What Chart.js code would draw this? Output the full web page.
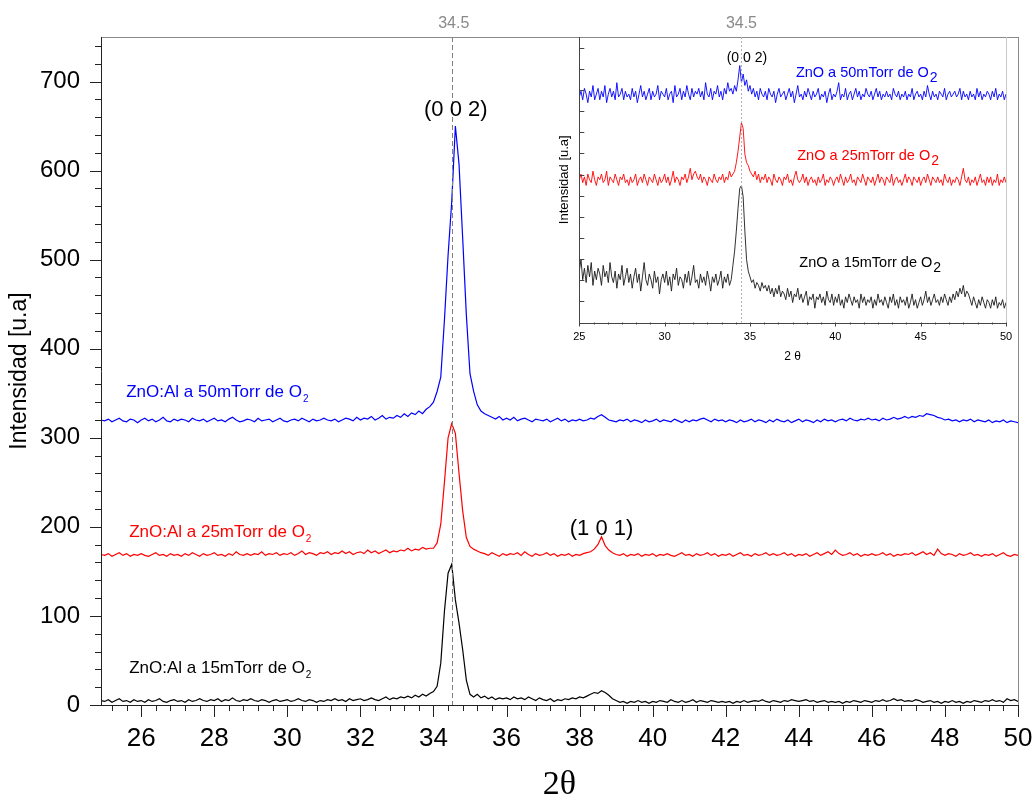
<!DOCTYPE html>
<html lang="es">
<head>
<meta charset="utf-8">
<title>DRX ZnO:Al</title>
<script src="https://cdn.jsdelivr.net/npm/chart.js@4.4.1/dist/chart.umd.min.js"></script>
<style>
  html, body { margin: 0; padding: 0; background: #fff; overflow: hidden; }
  #wrap { position: relative; width: 1035px; height: 802px; }
  canvas { position: absolute; top: 0; }
  #main-chart { left: 0; }
  #inset-chart { left: 540px; }
</style>
</head>
<body>
<div id="wrap">
  <canvas id="main-chart" width="1035" height="802"></canvas>
  <canvas id="inset-chart" width="477" height="372"></canvas>
</div>
<script>
// scan grid in 2θ (degrees)
const mainScanStart = 24.9;
const insetScanStart = 25.0;
const scanStep = 0.1;

const mainXTicks = [26, 28, 30, 32, 34, 36, 38, 40, 42, 44, 46, 48, 50];
const mainYTicks = [0, 100, 200, 300, 400, 500, 600, 700];
const insetXTicks = [25, 30, 35, 40, 45, 50];

// main plot, ZnO:Al films (24.9 .. 50.0)
const znoAl50 = [320,
  319,321,318,320,322,319,318,321,320,317,
  320,322,319,321,318,320,323,319,318,321,
  319,321,320,318,322,320,319,321,318,320,
  322,319,320,318,321,323,320,318,319,321,
  320,318,322,319,320,321,318,320,322,319,
  318,320,321,319,322,320,318,321,319,320,
  322,320,319,321,318,320,322,321,319,323,
  320,322,321,324,320,322,325,321,323,322,
  325,323,327,324,328,326,330,327,332,335,
  340,352,368,432,505,565,650,607,524,438,
  372,352,337,330,327,325,323,321,324,320,
  322,320,323,319,321,322,320,318,321,320,
  319,321,318,320,322,319,321,318,320,319,
  321,319,320,322,321,324,326,323,320,319,
  318,320,319,321,318,320,319,317,320,318,
  319,321,318,320,319,318,321,319,317,320,
  318,320,319,321,322,320,318,321,319,320,
  318,320,319,317,320,318,319,321,318,320,
  319,317,320,318,321,319,318,320,317,319,
  321,318,320,319,317,320,318,321,319,320,
  318,320,321,319,322,320,319,321,320,322,
  320,321,319,322,320,321,323,321,322,324,
  322,324,323,325,324,327,326,325,323,322,
  320,321,319,320,318,320,319,321,318,320,
  319,318,320,317,319,318,320,317,319,318,
  317];

const znoAl25 = [169,
  168,170,167,169,171,168,170,167,169,168,
  170,168,167,169,171,168,169,167,170,168,
  169,167,170,168,171,169,167,170,168,169,
  171,168,169,167,170,168,172,169,168,170,
  168,170,169,172,168,170,169,171,168,170,
  169,171,168,170,173,169,171,170,168,171,
  170,172,169,171,170,173,170,172,169,171,
  172,170,174,171,173,170,172,174,171,173,
  172,174,173,176,173,175,174,177,175,176,
  176,182,203,250,300,316,305,260,218,188,
  178,175,173,171,170,168,171,169,167,170,
  168,170,169,171,168,172,169,167,170,168,
  169,171,168,170,167,169,168,170,167,169,
  168,170,171,172,175,180,189,179,174,171,
  169,168,170,167,169,168,170,167,169,168,
  170,167,169,168,170,168,167,169,171,168,
  169,167,170,168,169,171,168,170,167,169,
  168,170,167,169,171,168,169,167,170,168,
  169,171,168,170,168,169,171,168,170,167,
  169,168,170,167,169,171,168,170,172,169,
  174,170,168,169,171,168,170,167,169,168,
  170,168,169,171,168,170,167,169,168,170,
  169,171,168,170,172,169,171,168,175,170,
  168,170,169,167,170,168,169,171,168,169,
  167,169,168,170,167,169,171,168,167,169,
  168];

const znoAl15 = [5,
  4,6,3,5,7,4,5,3,6,4,
  5,3,6,4,5,7,4,3,5,6,
  4,5,3,6,4,5,7,5,4,6,
  5,7,4,6,5,8,5,4,6,5,
  7,5,4,6,5,3,5,6,4,5,
  6,4,5,7,5,4,6,5,3,5,
  4,6,5,7,5,6,4,7,5,6,
  7,5,6,8,6,5,7,9,6,8,
  7,9,8,10,8,11,9,12,10,13,
  15,21,47,105,148,158,118,92,62,28,
  12,9,12,8,10,7,9,6,8,7,
  8,6,9,7,8,6,9,7,5,8,
  6,5,7,4,6,5,7,6,8,7,
  9,8,10,12,14,13,16,14,11,7,
  5,3,4,2,4,3,5,3,4,2,
  4,3,5,4,3,6,4,3,5,3,
  4,6,3,5,4,3,5,4,3,4,
  3,4,2,4,3,5,3,4,5,4,
  6,4,3,5,4,3,5,4,6,5,
  4,5,6,4,5,3,4,5,3,4,
  3,4,2,4,3,5,4,3,5,4,
  3,5,4,6,4,5,7,5,6,4,
  5,4,6,5,3,4,5,3,4,2,
  4,3,5,3,4,2,4,3,5,4,
  3,5,4,6,4,5,3,7,5,6,
  4];

// inset, undoped ZnO films (25.0 .. 50.0), arbitrary units
const zno50 = [
  79,81,78,82,80,77,81,79,83,78,
  80,82,78,81,79,83,77,80,82,79,
  81,78,84,79,80,82,78,81,79,80,
  78,82,79,81,77,80,83,79,81,78,
  80,82,78,81,79,80,83,78,81,80,
  79,82,78,80,81,77,83,79,80,82,
  78,81,79,83,80,78,82,79,81,80,
  82,79,81,78,84,80,79,82,78,81,
  80,83,79,81,78,82,80,84,81,82,
  80,83,81,85,90,84,87,83,85,81,
  83,80,82,79,81,78,82,80,79,81,
  78,82,80,79,81,77,80,82,79,80,
  81,78,80,82,79,81,77,80,83,79,
  80,78,81,79,82,80,78,81,79,80,
  82,78,80,79,81,77,80,82,78,80,
  79,81,84,78,80,79,82,78,80,81,
  78,80,82,79,81,78,80,79,82,80,
  79,81,78,80,82,79,81,78,80,79,
  81,79,80,78,82,80,79,81,78,80,
  79,81,78,80,79,82,78,80,81,79,
  80,78,81,79,83,80,78,81,79,80,
  78,81,80,79,82,78,80,81,79,80,
  81,79,80,82,78,81,79,80,78,81,
  79,80,78,82,79,81,78,80,79,81,
  80,78,81,79,82,78,80,79,81,78,
  80];

const zno25 = [
  50,52,49,51,48,52,50,49,53,50,
  48,51,50,52,49,50,53,48,51,50,
  49,52,50,48,51,50,52,49,50,48,
  51,49,50,52,48,50,51,49,52,50,
  48,51,50,49,52,50,48,51,49,50,
  52,49,51,48,50,53,49,51,50,48,
  51,50,52,49,51,54,50,52,53,51,
  50,52,49,51,50,48,51,50,49,52,
  50,49,51,50,52,49,51,50,53,51,
  52,53,56,60,65,70,68,59,56,55,
  53,52,51,53,50,52,49,51,50,52,
  49,51,50,48,52,50,49,51,50,48,
  51,50,52,49,50,48,51,53,50,49,
  50,52,49,51,48,50,51,49,50,48,
  51,49,50,52,48,50,49,51,50,48,
  50,51,49,52,50,48,51,49,50,52,
  49,50,48,51,50,49,52,50,48,51,
  50,49,51,48,50,52,49,51,50,48,
  51,50,49,52,48,50,51,49,50,48,
  50,52,49,51,50,48,51,50,49,51,
  48,50,51,49,52,50,48,51,50,49,
  51,49,50,48,52,50,49,51,48,50,
  49,51,50,48,51,54,50,49,51,48,
  50,49,51,48,50,52,49,50,48,51,
  49,51,48,50,49,52,48,50,49,51,
  49];

const zno15 = [
  18,22,15,19,14,20,16,21,13,18,
  15,19,17,13,20,16,18,14,21,16,
  14,18,12,17,15,20,13,16,19,14,
  17,12,16,19,14,17,11,16,21,15,
  13,17,15,12,18,14,16,10,15,17,
  14,18,13,16,11,17,15,19,13,16,
  15,12,17,14,18,13,16,20,14,15,
  12,17,14,16,13,18,15,11,16,14,
  17,13,15,18,12,16,14,17,13,15,
  20,25,32,40,47,48,44,32,22,18,
  16,14,15,12,14,13,11,14,12,13,
  11,13,10,12,9,12,10,13,9,11,
  10,8,12,9,11,7,10,9,12,8,
  10,7,9,11,6,9,8,10,5,9,
  8,10,7,9,6,11,8,7,10,6,
  9,7,10,6,8,5,9,7,10,8,
  6,9,7,8,5,10,7,9,6,8,
  7,9,5,8,6,10,7,8,6,9,
  7,5,9,7,10,6,8,5,9,7,
  8,6,9,5,7,10,6,8,5,7,
  9,6,8,11,7,9,6,8,10,7,
  8,6,9,7,10,8,6,9,7,10,
  8,11,9,12,10,13,9,11,10,8,
  6,9,7,5,8,6,9,7,5,8,
  7,5,8,6,9,5,7,6,8,5,
  7];

const BLUE = '#0000ff', RED = '#ff0000', BLACK = '#000000';
const SANS = "'Liberation Sans', Arial, sans-serif";
const NARROW = "'Liberation Sans Narrow', 'Arial Narrow', 'Liberation Sans', sans-serif";
const SERIF = "'Liberation Serif', 'Times New Roman', serif";

const toPoints = (vals, start) =>
  vals.map((v, i) => ({ x: Math.round((start + i * scanStep) * 10) / 10, y: v }));

const lineSet = (label, vals, start, color, width) => ({
  label,
  data: toPoints(vals, start),
  borderColor: color,
  backgroundColor: color,
  borderWidth: width,
  pointRadius: 0,
  tension: 0,
  fill: false,
});

// drop the label overhang padding so the plot area is exactly what layout.padding says
const noOverhang = s => {
  s.paddingLeft = 0;
  s.paddingRight = 0;
  s.paddingTop = 0;
  s.paddingBottom = 0;
};

function hline(ctx, x1, x2, y) {
  const yy = Math.round(y) + 0.5;
  ctx.beginPath();
  ctx.moveTo(x1, yy);
  ctx.lineTo(x2, yy);
  ctx.stroke();
}

function vline(ctx, x, y1, y2) {
  const xx = Math.round(x) + 0.5;
  ctx.beginPath();
  ctx.moveTo(xx, y1);
  ctx.lineTo(xx, y2);
  ctx.stroke();
}

// "text" + lowered subscript
function subLabel(ctx, text, sub, x, y, size, subSize, drop, color) {
  ctx.fillStyle = color;
  ctx.textAlign = 'left';
  ctx.textBaseline = 'alphabetic';
  ctx.font = `${size}px ${SANS}`;
  ctx.fillText(text, x, y);
  const w = ctx.measureText(text).width;
  ctx.font = `${subSize}px ${SANS}`;
  ctx.fillText(sub, x + w + 1, y + drop);
}

const mainDecor = {
  id: 'mainDecor',
  afterDraw(chart) {
    const { ctx, chartArea: a, scales: { x, y } } = chart;
    ctx.save();
    ctx.lineWidth = 1;

    ctx.strokeStyle = '#8a8a8a';
    hline(ctx, a.left, a.right + 1, a.top);
    vline(ctx, a.right, a.top, a.bottom);
    ctx.strokeStyle = '#222';
    vline(ctx, a.left, a.top, a.bottom + 1);
    hline(ctx, a.left, a.right + 1, a.bottom);

    // y ticks every 20, long ones where labelled
    for (let v = 0; v <= 740; v += 20) {
      const len = mainYTicks.includes(v) ? 11 : 6;
      hline(ctx, a.left - len, a.left, y.getPixelForValue(v));
    }
    // x ticks every 0.4
    for (let k = 0; ; k++) {
      const v = 25.2 + 0.4 * k;
      if (v > 50.001) break;
      const major = mainXTicks.some(t => Math.abs(t - v) < 1e-6);
      vline(ctx, x.getPixelForValue(v), a.bottom, a.bottom + (major ? 12 : 6));
    }

    // reference line at 34.5
    const px = x.getPixelForValue(34.5);
    ctx.strokeStyle = '#808080';
    ctx.setLineDash([5, 3]);
    vline(ctx, px, a.top, a.bottom);
    ctx.setLineDash([]);
    ctx.fillStyle = '#8a8a8a';
    ctx.font = `16px ${SANS}`;
    ctx.textAlign = 'center';
    ctx.textBaseline = 'alphabetic';
    ctx.fillText('34.5', px + 2, 28);

    // peak indices
    ctx.fillStyle = BLACK;
    ctx.font = `22px ${SANS}`;
    ctx.fillText('(0 0 2)', x.getPixelForValue(34.61), y.getPixelForValue(661));
    ctx.fillText('(1 0 1)', x.getPixelForValue(38.6), y.getPixelForValue(191));

    // series names
    subLabel(ctx, 'ZnO:Al a 50mTorr de O', '2', x.getPixelForValue(25.59), y.getPixelForValue(346), 17, 10, 5, BLUE);
    subLabel(ctx, 'ZnO:Al a 25mTorr de O', '2', x.getPixelForValue(25.67), y.getPixelForValue(189), 17, 10, 5, RED);
    subLabel(ctx, 'ZnO:Al a 15mTorr de O', '2', x.getPixelForValue(25.67), y.getPixelForValue(36), 17, 10, 5, BLACK);
    ctx.restore();
  },
};

new Chart(document.getElementById('main-chart'), {
  type: 'line',
  data: {
    datasets: [
      lineSet('ZnO:Al a 15mTorr de O2', znoAl15, mainScanStart, BLACK, 1.2),
      lineSet('ZnO:Al a 25mTorr de O2', znoAl25, mainScanStart, RED, 1.2),
      lineSet('ZnO:Al a 50mTorr de O2', znoAl50, mainScanStart, BLUE, 1.2),
    ],
  },
  options: {
    responsive: false,
    animation: false,
    devicePixelRatio: 1,
    layout: { autoPadding: false, padding: { top: 37, right: 17, left: 0, bottom: 0 } },
    plugins: { legend: { display: false }, tooltip: { enabled: false } },
    scales: {
      x: {
        type: 'linear',
        min: 24.9,
        max: 50,
        afterBuildTicks: s => { s.ticks = mainXTicks.map(v => ({ value: v })); },
        ticks: { color: '#000', font: { family: NARROW, size: 26 }, padding: 18, maxRotation: 0, autoSkip: false },
        grid: { display: false, drawTicks: false },
        border: { display: false },
        title: { display: true, text: '2θ', color: '#000', font: { family: SERIF, size: 34, lineHeight: 1 }, padding: { top: 0, bottom: 0 } },
        afterFit: s => { s.height = 97; noOverhang(s); },
      },
      y: {
        min: 0,
        max: 750,
        afterBuildTicks: s => { s.ticks = mainYTicks.map(v => ({ value: v })); },
        ticks: { color: '#000', font: { family: SANS, size: 24 }, padding: 21 },
        grid: { display: false, drawTicks: false },
        border: { display: false },
        title: { display: true, text: 'Intensidad [u.a]', color: '#000', font: { family: SANS, size: 23 }, padding: { top: 6, bottom: 0 } },
        afterFit: s => { s.width = 101; noOverhang(s); },
      },
    },
  },
  plugins: [mainDecor],
});

const insetDecor = {
  id: 'insetDecor',
  beforeDraw(chart) {
    const { ctx, width, height } = chart;
    ctx.save();
    ctx.fillStyle = '#fff';
    ctx.fillRect(0, 38, width, height - 38);
    ctx.restore();
  },
  afterDraw(chart) {
    const { ctx, chartArea: a, scales: { x, y } } = chart;
    ctx.save();
    ctx.lineWidth = 1;

    ctx.strokeStyle = '#c8c8c8';
    vline(ctx, a.right, a.top, a.bottom);
    ctx.strokeStyle = '#444';
    vline(ctx, a.left, a.top, a.bottom + 1);
    hline(ctx, a.left, a.right + 1, a.bottom);

    // inward y ticks
    for (let v = 7.4; v < 100; v += 7.4) {
      hline(ctx, a.left, a.left + 5, y.getPixelForValue(v));
    }
    // x ticks: majors every 5, five minors between
    for (let k = 0; k <= 30; k++) {
      const v = 25 + k * 5 / 6;
      const major = k % 6 === 0;
      vline(ctx, x.getPixelForValue(v), a.bottom, a.bottom + (major ? 4 : 2));
    }

    const px = x.getPixelForValue(34.5);
    ctx.strokeStyle = '#b0b0b0';
    ctx.setLineDash([2, 2]);
    vline(ctx, px, a.top, a.bottom);
    ctx.setLineDash([]);
    ctx.fillStyle = '#8a8a8a';
    ctx.font = `16px ${SANS}`;
    ctx.textAlign = 'center';
    ctx.textBaseline = 'alphabetic';
    ctx.fillText('34.5', px, 28);

    ctx.fillStyle = BLACK;
    ctx.font = `14px ${SANS}`;
    ctx.fillText('(0 0 2)', x.getPixelForValue(34.82), y.getPixelForValue(91.4));

    subLabel(ctx, 'ZnO a 50mTorr de O', '2', x.getPixelForValue(37.69), y.getPixelForValue(85.9), 14.5, 14, 5, BLUE);
    subLabel(ctx, 'ZnO a 25mTorr de O', '2', x.getPixelForValue(37.77), y.getPixelForValue(56.9), 14.5, 14, 5, RED);
    subLabel(ctx, 'ZnO a 15mTorr de O', '2', x.getPixelForValue(37.89), y.getPixelForValue(19.6), 14.5, 14, 5, BLACK);
    ctx.restore();
  },
};

new Chart(document.getElementById('inset-chart'), {
  type: 'line',
  data: {
    datasets: [
      lineSet('ZnO a 15mTorr de O2', zno15, insetScanStart, '#1a1a1a', 0.9),
      lineSet('ZnO a 25mTorr de O2', zno25, insetScanStart, RED, 0.9),
      lineSet('ZnO a 50mTorr de O2', zno50, insetScanStart, BLUE, 0.9),
    ],
  },
  options: {
    responsive: false,
    animation: false,
    devicePixelRatio: 1,
    layout: { autoPadding: false, padding: { top: 37, right: 11, left: 0, bottom: 0 } },
    plugins: { legend: { display: false }, tooltip: { enabled: false } },
    scales: {
      x: {
        type: 'linear',
        min: 25,
        max: 50,
        afterBuildTicks: s => { s.ticks = insetXTicks.map(v => ({ value: v })); },
        ticks: { color: '#000', font: { family: SANS, size: 11 }, padding: 8, maxRotation: 0, autoSkip: false },
        grid: { display: false, drawTicks: false },
        border: { display: false },
        title: { display: true, text: '2 θ', color: '#000', font: { family: SANS, size: 12 }, padding: { top: 0, bottom: 8 } },
        afterFit: s => { s.height = 49.5; noOverhang(s); },
      },
      y: {
        min: 0,
        max: 100,
        ticks: { display: false },
        grid: { display: false, drawTicks: false },
        border: { display: false },
        title: { display: true, text: 'Intensidad [u.a]', color: '#000', font: { family: SANS, size: 13 }, padding: { top: 17, bottom: 0 } },
        afterFit: s => { s.width = 39.3; noOverhang(s); },
      },
    },
  },
  plugins: [insetDecor],
});
</script>
</body>
</html>
